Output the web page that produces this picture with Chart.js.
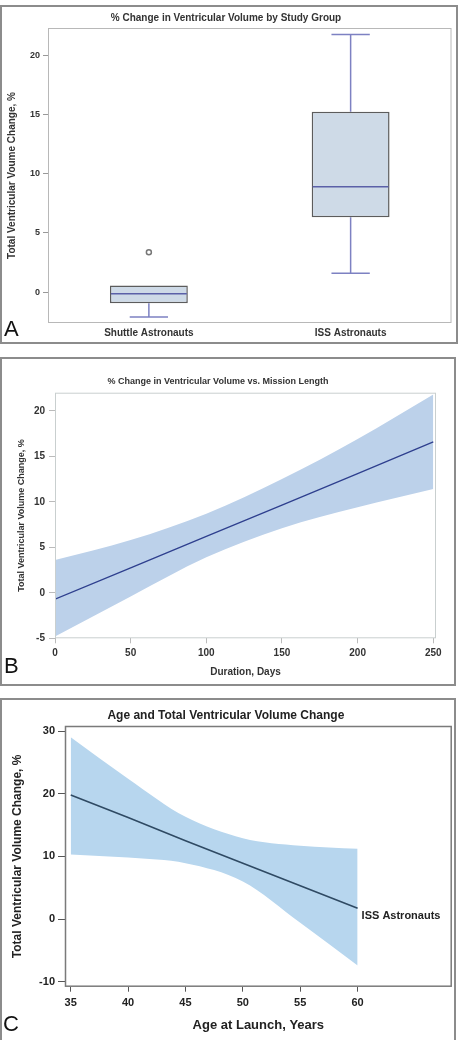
<!DOCTYPE html>
<html>
<head>
<meta charset="utf-8">
<script src="https://cdn.jsdelivr.net/npm/chart.js@4"></script>
<style>
body{margin:0;background:#fff;width:465px;height:1040px;position:relative;overflow:hidden;font-family:"Liberation Sans",Arial,sans-serif}
.frame{position:absolute;border:2px solid #8c8c8c;box-sizing:border-box}
canvas{position:absolute}
.tag{position:absolute;font-size:22px;line-height:1;color:#111}
</style>
</head>
<body>
<div class="frame" style="left:0;top:5px;width:458px;height:339px"></div>
<div class="frame" style="left:0;top:357px;width:456px;height:329px"></div>
<div class="frame" style="left:0;top:698px;width:456px;height:350px"></div>

<canvas id="chartA" width="457" height="337" style="left:0;top:6px"></canvas>
<canvas id="chartB" width="455" height="327" style="left:0;top:358px"></canvas>
<canvas id="chartC" width="455" height="341" style="left:0;top:699px"></canvas>

<div class="tag" style="left:4px;top:318px">A</div>
<div class="tag" style="left:4px;top:655px">B</div>
<div class="tag" style="left:3px;top:1013px">C</div>

<script>
// ===== Data =====
// A: box plot by study group
const groups = ['Shuttle Astronauts', 'ISS Astronauts'];
const boxMin = [-2.1, 1.6];
const boxQ1 = [-0.93, 6.32];
const boxMedian = [-0.14, 8.9];
const boxQ3 = [0.56, 15.23];
const boxMax = [0.56, 21.75];
const outliers = [3.37, null];
const ticksA = [0, 5, 10, 15, 20];

// B: change vs mission length
const daysX = [0, 50, 100, 150, 200, 250];
const daysFit = [-0.7, 2.75, 6.2, 9.65, 13.1, 16.6];
const daysUpper = [3.6, 5.8, 8.7, 12.5, 16.9, 21.8];
const daysLower = [-4.8, -0.4, 3.9, 7.1, 9.4, 11.4];
const ticksBy = [-5, 0, 5, 10, 15, 20];
const ticksBx = [0, 50, 100, 150, 200, 250];

// C: change vs age at launch
const ageX = [35, 40, 45, 50, 55, 60];
const ageFit = [19.8, 16.2, 12.5, 8.9, 5.3, 1.7];
const ageUpper = [29.0, 22.4, 16.3, 12.9, 11.7, 11.2];
const ageLower = [10.3, 9.8, 8.9, 6.0, -0.6, -7.4];
const ticksCy = [-10, 0, 10, 20, 30];
const ticksCx = [35, 40, 45, 50, 55, 60];

Chart.defaults.font.family = '"Liberation Sans", Arial, sans-serif';
Chart.defaults.color = '#333';
Chart.defaults.animation = false;

const pts = (xs, ys) => xs.map((x, i) => ({x, y: ys[i]}));
const fixTicks = list => scale => { scale.ticks = list.map(v => ({value: v})); };

// frame around plot area
const plotFrame = {
    id: 'plotFrame',
    afterDraw(chart, args, opts) {
        const a = chart.chartArea, ctx = chart.ctx;
        ctx.save();
        ctx.strokeStyle = opts.color;
        ctx.lineWidth = opts.width;
        ctx.strokeRect(a.left + 0.5, a.top + 0.5, a.width - 1, a.height - 1);
        ctx.restore();
    }
};

// whiskers + median for the box plot
const boxParts = {
    id: 'boxParts',
    beforeDatasetsDraw(chart) {
        const {ctx, scales: {x, y}} = chart;
        const capHalf = (x.getPixelForValue(1) - x.getPixelForValue(0)) * 0.095;
        ctx.save();
        ctx.strokeStyle = '#7d81c2';
        ctx.lineWidth = 1.5;
        groups.forEach((g, i) => {
            const cx = x.getPixelForValue(i);
            const seg = (a, b) => {
                ctx.beginPath();
                ctx.moveTo(cx, y.getPixelForValue(a));
                ctx.lineTo(cx, y.getPixelForValue(b));
                ctx.moveTo(cx - capHalf, y.getPixelForValue(b));
                ctx.lineTo(cx + capHalf, y.getPixelForValue(b));
                ctx.stroke();
            };
            if (boxMax[i] > boxQ3[i]) seg(boxQ3[i], boxMax[i]);
            if (boxMin[i] < boxQ1[i]) seg(boxQ1[i], boxMin[i]);
        });
        ctx.restore();
    },
    afterDatasetsDraw(chart) {
        const {ctx, scales: {y}} = chart;
        const bars = chart.getDatasetMeta(0).data;
        ctx.save();
        ctx.strokeStyle = '#5b60a8';
        ctx.lineWidth = 1.5;
        bars.forEach((b, i) => {
            const py = y.getPixelForValue(boxMedian[i]);
            ctx.beginPath();
            ctx.moveTo(b.x - b.width / 2 + 1, py);
            ctx.lineTo(b.x + b.width / 2 - 1, py);
            ctx.stroke();
        });
        ctx.restore();
    }
};

// series label at the end of the line in C
const endLabel = {
    id: 'endLabel',
    afterDatasetsDraw(chart) {
        const {ctx, scales: {x, y}} = chart;
        ctx.save();
        ctx.font = 'bold 11px "Liberation Sans", Arial, sans-serif';
        ctx.fillStyle = '#222';
        ctx.textAlign = 'left';
        ctx.textBaseline = 'middle';
        ctx.fillText('ISS Astronauts', x.getPixelForValue(60) + 4, y.getPixelForValue(0.5));
        ctx.restore();
    }
};

// ===== A =====
new Chart(document.getElementById('chartA'), {
    type: 'bar',
    data: {
        labels: groups,
        datasets: [
            {
                data: groups.map((g, i) => [boxQ1[i], boxQ3[i]]),
                backgroundColor: '#cedae7',
                borderColor: '#5c5c5c',
                borderWidth: 1.5,
                borderSkipped: false,
                categoryPercentage: 1,
                barPercentage: 0.386
            },
            {
                type: 'line',
                data: outliers,
                showLine: false,
                pointRadius: 2.5,
                pointBackgroundColor: '#fff',
                pointBorderColor: '#777',
                pointBorderWidth: 1.5
            }
        ]
    },
    options: {
        responsive: false,
        layout: { padding: { left: 0, right: 5, top: 0, bottom: 0 } },
        plugins: {
            legend: { display: false },
            tooltip: { enabled: false },
            title: {
                display: true,
                text: '% Change in Ventricular Volume by Study Group',
                font: { size: 10, weight: 'bold' },
                color: '#333',
                padding: { top: 6, bottom: 4 }
            },
            plotFrame: { color: '#b8b8b8', width: 1 }
        },
        scales: {
            x: {
                afterFit(s) { s.height = 20; },
                grid: { display: false, drawTicks: false },
                border: { display: false },
                ticks: { font: { size: 10, weight: 'bold' }, padding: 4, color: '#333' }
            },
            y: {
                min: -2.6, max: 22.3,
                afterFit(s) { s.width = 48; },
                afterBuildTicks: fixTicks(ticksA),
                grid: { drawOnChartArea: false, tickLength: 5, color: '#999' },
                border: { display: false },
                ticks: { font: { size: 9, weight: 'bold' }, padding: 3, color: '#333' },
                title: {
                    display: true,
                    text: 'Total Ventricular Voume Change, %',
                    font: { size: 10, weight: 'bold' },
                    color: '#333',
                    padding: { top: 6, bottom: 0 }
                }
            }
        }
    },
    plugins: [plotFrame, boxParts]
});

// ===== B =====
new Chart(document.getElementById('chartB'), {
    type: 'line',
    data: {
        datasets: [
            { data: pts(daysX, daysLower), order: 1, borderWidth: 0, pointRadius: 0, fill: false, cubicInterpolationMode: 'monotone' },
            { data: pts(daysX, daysUpper), order: 1, borderWidth: 0, pointRadius: 0, fill: '-1', backgroundColor: '#bcd1ea', cubicInterpolationMode: 'monotone' },
            { data: pts(daysX, daysFit), order: 0, borderColor: '#2e3f8e', borderWidth: 1.3, pointRadius: 0, fill: false }
        ]
    },
    options: {
        responsive: false,
        layout: { padding: { left: 0, right: 19, top: 0, bottom: 0 } },
        plugins: {
            legend: { display: false },
            tooltip: { enabled: false },
            title: {
                display: true,
                text: '% Change in Ventricular Volume vs. Mission Length',
                font: { size: 9, weight: 'bold' },
                color: '#333',
                padding: { top: 18.3, bottom: 5.6 }
            },
            plotFrame: { color: '#c9cfcf', width: 1 }
        },
        scales: {
            x: {
                type: 'linear',
                min: 0, max: 251.8,
                afterFit(s) { s.height = 46.7; },
                afterBuildTicks: fixTicks(ticksBx),
                grid: { drawOnChartArea: false, tickLength: 5, color: '#bbb' },
                border: { display: false },
                ticks: { font: { size: 10, weight: 'bold' }, padding: 4, color: '#333' },
                title: {
                    display: true,
                    text: 'Duration, Days',
                    font: { size: 10, weight: 'bold' },
                    color: '#333',
                    padding: { top: 0, bottom: 6.3 }
                }
            },
            y: {
                min: -5, max: 22,
                afterFit(s) { s.width = 55; },
                afterBuildTicks: fixTicks(ticksBy),
                grid: { drawOnChartArea: false, tickLength: 6, color: '#bbb' },
                border: { display: false },
                ticks: { font: { size: 10, weight: 'bold' }, padding: 4, color: '#333' },
                title: {
                    display: true,
                    text: 'Total Ventricular Volume Change, %',
                    font: { size: 9, weight: 'bold' },
                    color: '#333',
                    padding: { top: 16.6, bottom: 0 }
                }
            }
        }
    },
    plugins: [plotFrame]
});

// ===== C =====
new Chart(document.getElementById('chartC'), {
    type: 'line',
    data: {
        datasets: [
            { data: pts(ageX, ageLower), order: 1, borderWidth: 0, pointRadius: 0, fill: false, cubicInterpolationMode: 'monotone' },
            { data: pts(ageX, ageUpper), order: 1, borderWidth: 0, pointRadius: 0, fill: '-1', backgroundColor: '#b7d6ee', cubicInterpolationMode: 'monotone' },
            { data: pts(ageX, ageFit), order: 0, borderColor: '#2f4a63', borderWidth: 1.6, pointRadius: 0, fill: false }
        ]
    },
    options: {
        responsive: false,
        layout: { padding: { left: 0, right: 3.3, top: 0, bottom: 0 } },
        plugins: {
            legend: { display: false },
            tooltip: { enabled: false },
            title: {
                display: true,
                text: 'Age and Total Ventricular Volume Change',
                font: { size: 12, weight: 'bold' },
                color: '#222',
                padding: { top: 9.5, bottom: 3.1 }
            },
            plotFrame: { color: '#7a7a7a', width: 1.5 }
        },
        scales: {
            x: {
                type: 'linear',
                min: 34.5, max: 68.2,
                afterFit(s) { s.height = 53.3; },
                afterBuildTicks: fixTicks(ticksCx),
                grid: { drawOnChartArea: false, tickLength: 5, color: '#555' },
                border: { display: false },
                ticks: { font: { size: 11, weight: 'bold' }, padding: 5, color: '#222' },
                title: {
                    display: true,
                    text: 'Age at Launch, Years',
                    font: { size: 13, weight: 'bold' },
                    color: '#222',
                    padding: { top: 0, bottom: 7.2 }
                }
            },
            y: {
                min: -10.8, max: 30.8,
                afterFit(s) { s.width = 65; },
                afterBuildTicks: fixTicks(ticksCy),
                grid: { drawOnChartArea: false, tickLength: 7, color: '#555' },
                border: { display: false },
                ticks: { font: { size: 11, weight: 'bold' }, padding: 3, color: '#222' },
                title: {
                    display: true,
                    text: 'Total Ventricular Volume Change, %',
                    font: { size: 12, weight: 'bold' },
                    color: '#222',
                    padding: { top: 10.8, bottom: 0 }
                }
            }
        }
    },
    plugins: [plotFrame, endLabel]
});
</script>
</body>
</html>
